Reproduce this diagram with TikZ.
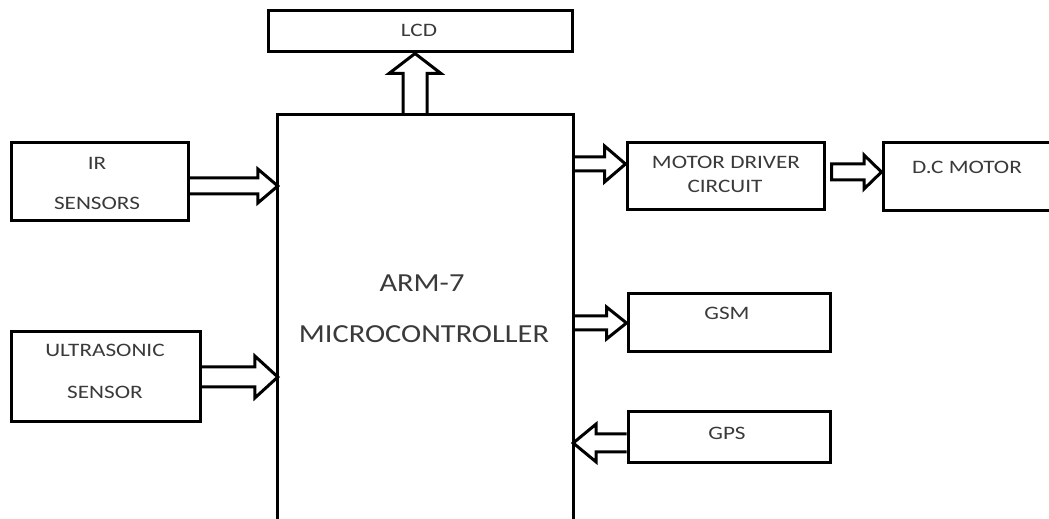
\documentclass[tikz,border=0pt]{standalone}
\usepackage{fontspec}
\setmainfont{Carlito}
\usetikzlibrary{calc}
\definecolor{txt}{HTML}{3A3A3A}
\newcommand\wide[1]{\scalebox{1.22}[1]{#1}}
\newcommand\wideb[1]{\scalebox{1.17}[1]{#1}}
% #1 from, #2 to, #3 y, #4 shaft half, #5 head half, #6 head length, #7 direction (1 right, -1 left)
\newcommand\HArrow[7]{%
 \draw[blk] let \p1=(#1), \p2=(#2) in
  (\x1,{#3pt+#4pt}) -- ({\x2-(#7)*#6pt},{#3pt+#4pt}) -- ({\x2-(#7)*#6pt},{#3pt+#5pt})
  -- (\x2,{#3pt}) -- ({\x2-(#7)*#6pt},{#3pt-#5pt}) -- ({\x2-(#7)*#6pt},{#3pt-#4pt})
  -- (\x1,{#3pt-#4pt});
}
\begin{document}
\begin{tikzpicture}[x=1pt,y=1pt,
  box/.style={draw,line width=3pt,inner sep=0pt},
  lbl/.style={text=txt,font=\fontsize{19}{22}\selectfont,inner sep=0pt},
  big/.style={text=txt,font=\fontsize{26}{30}\selectfont,inner sep=0pt},
  blk/.style={line width=3pt,line join=miter}]
\useasboundingbox (0,0) rectangle (1049,519);
\fill[white] (0,0) rectangle (1049,519);

% boxes
\node[box,minimum width=304pt,minimum height=41pt] (lcd) at (420,487.5) {};
\node[inner sep=0pt,minimum width=295pt,minimum height=410pt] (mcu) at (425.5,199) {};
\draw[line width=3pt] (mcu.south west) -- (mcu.north west) -- (mcu.north east) -- (mcu.south east);
\node[box,minimum width=177pt,minimum height=78pt] (ir) at (99.5,337) {};
\node[box,minimum width=189pt,minimum height=90pt] (us) at (105.5,142) {};
\node[box,minimum width=197pt,minimum height=67pt] (md) at (725.5,342.5) {};
\node[box,minimum width=180pt,minimum height=68pt] (dc) at (973,342) {};
\node[box,minimum width=202pt,minimum height=58pt] (gsm) at (729,196) {};
\node[box,minimum width=202pt,minimum height=51pt] (gps) at (729,81.5) {};

% labels
\node[lbl] (lcdt) at (419,489) {\wide{LCD}};
\node[lbl] (irt1) at (97,356) {\wide{IR}};
\node[lbl] (irt2) at (97,316) {\wide{SENSORS}};
\node[lbl] (ust1) at (105,169) {\wide{ULTRASONIC}};
\node[lbl] (ust2) at (105,127) {\wide{SENSOR}};
\node[lbl] (mdt1) at (726,357) {\wide{MOTOR DRIVER}};
\node[lbl] (mdt2) at (725,333) {\wide{CIRCUIT}};
\node[lbl] (dct) at (967,352) {\wide{D.C MOTOR}};
\node[lbl] (gsmt) at (727,206) {\wide{GSM}};
\node[lbl] (gpst) at (727,86) {\wide{GPS}};
\node[big] (armt1) at (422,236) {\wideb{ARM-7}};
\node[big] (armt2) at (424,185) {\wideb{MICROCONTROLLER}};

% block arrows
\HArrow{ir.east}{mcu.west}{333}{8}{17}{20}{1}
\HArrow{us.east}{mcu.west}{142}{10}{21}{23}{1}
\HArrow{mcu.east}{md.west}{355}{7}{18}{21}{1}
\draw[blk] let \p1=(md.east), \p2=(dc.west) in
  ({\x1+6pt},355pt) -- (864,355) -- (864,364) -- (\x2,347) -- (864,330) -- (864,339) -- ({\x1+6pt},339pt) -- cycle;
\HArrow{mcu.east}{gsm.west}{196}{7}{16}{20}{1}
\HArrow{gps.west}{mcu.east}{76}{9}{19}{23}{-1}
\draw[blk] let \p1=(mcu.north), \p2=(lcd.south) in
  (403,\y1) -- (403,{\y2-20pt}) -- (389,{\y2-20pt}) -- (415,\y2)
  -- (441,{\y2-20pt}) -- (427,{\y2-20pt}) -- (427,\y1);
\end{tikzpicture}
\end{document}
